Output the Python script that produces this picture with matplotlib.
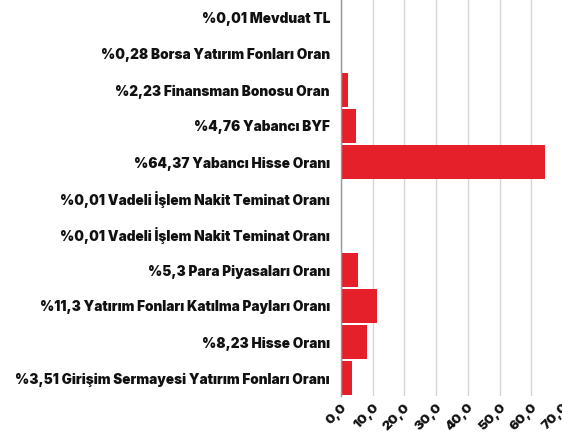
import matplotlib
matplotlib.use("Agg")
import matplotlib.pyplot as plt
import numpy as np

categories = [
    "%0,01 Mevduat TL",
    "%0,28 Borsa Yatırım Fonları Oran",
    "%2,23 Finansman Bonosu Oran",
    "%4,76 Yabancı BYF",
    "%64,37 Yabancı Hisse Oranı",
    "%0,01 Vadeli İşlem Nakit Teminat Oranı",
    "%0,01 Vadeli İşlem Nakit Teminat Oranı",
    "%5,3 Para Piyasaları Oranı",
    "%11,3 Yatırım Fonları Katılma Payları Oranı",
    "%8,23 Hisse Oranı",
    "%3,51 Girişim Sermayesi Yatırım Fonları Oranı",
]
values = [0.01, 0.28, 2.23, 4.76, 64.37, 0.01, 0.01, 5.3, 11.3, 8.23, 3.51]
xticks = [0, 10, 20, 30, 40, 50, 60, 70]
xticklabels = ["0,0", "10,0", "20,0", "30,0", "40,0", "50,0", "60,0", "70,0"]

plt.rcParams['font.family'] = ['Inter', 'DejaVu Sans']

fig = plt.figure(figsize=(5.62, 4.34), dpi=100)
ax = fig.add_axes([341/562, 1-396/434, 222/562, 396/434])

y = np.arange(len(categories))
ax.barh(y, values, height=0.92, color="#e5202a", zorder=3)
ax.set_ylim(len(categories)-0.5, -0.5)
ax.set_xlim(0, 70)
ax.set_yticks(y)
ax.set_yticklabels(categories, fontsize=9.8, fontweight='black', color="#111111")
ax.set_xticks(xticks)
ax.set_xticklabels(xticklabels, fontsize=9.5, fontweight='black', rotation=45,
                   ha='right', rotation_mode='anchor', color="#111111")
ax.tick_params(axis='y', length=0, pad=8)
ax.tick_params(axis='x', length=0, pad=4)
ax.grid(axis='x', color="#d6d6d6", linewidth=1, zorder=0)
for s in ["top", "right", "bottom"]:
    ax.spines[s].set_visible(False)
ax.spines["left"].set_color("#999999")
ax.spines["left"].set_linewidth(1)
ax.spines["left"].set_zorder(4)

fig.savefig("out.png", dpi=100)
